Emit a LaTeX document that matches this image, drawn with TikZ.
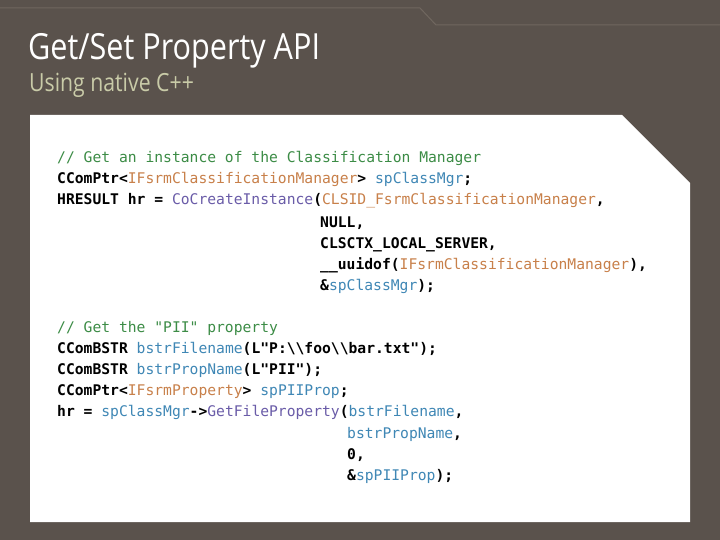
\documentclass[tikz,border=0pt]{standalone}
\usepackage{fontspec}
\setmainfont{Open Sans}
\newfontfamily\codefont{DejaVu Sans Mono}
\definecolor{bg}{HTML}{5A524C}
\definecolor{deco}{HTML}{70675F}
\definecolor{subc}{HTML}{C9CBA8}
\definecolor{cmc}{HTML}{3C8C46}
\definecolor{tyc}{HTML}{C8804A}
\definecolor{vac}{HTML}{3F87B5}
\definecolor{fnc}{HTML}{6A5CA8}
\newcommand\kw[1]{\textbf{#1}}
\newcommand\ty[1]{\textcolor{tyc}{#1}}
\newcommand\va[1]{\textcolor{vac}{#1}}
\newcommand\fn[1]{\textcolor{fnc}{#1}}
\newcommand\cm[1]{\textcolor{cmc}{#1}}
\newcommand\bs{\textbackslash}
\begin{document}
\begin{tikzpicture}[x=1pt,y=-1pt,
  code/.style={anchor=base west,inner sep=0pt,font=\codefont\fontsize{14.67}{16}\selectfont}]
\useasboundingbox (0,0) rectangle (720,540);
\fill[bg] (0,0) rectangle (720,540);
\draw[deco,line width=1pt] (0,8) -- (420,8) -- (436,25) -- (720,25);
\node[anchor=base west,inner sep=0pt,text=white,font=\fontsize{36}{40}\selectfont\addfontfeatures{FakeStretch=0.85}] (title) at (28,60) {Get/Set Property API};
\node[anchor=base west,inner sep=0pt,text=subc,font=\fontsize{25}{28}\selectfont\addfontfeatures{FakeStretch=0.85}] (sub) at (29,92) {Using native C++};
\fill[white] (30,115) -- (622,115) -- (690,183) -- (690,522) -- (30,522) -- cycle;
\def\L{57}
\node[code] (l1) at (\L,163) {\cm{// Get an instance of the Classification Manager}};
\node[code] (l2) at (\L,184) {\kw{CComPtr<}\ty{IFsrmClassificationManager}\kw{>} \va{spClassMgr}\kw{;}};
\node[code] (l3) at (\L,205) {\kw{HRESULT hr =} \fn{CoCreateInstance}\kw{(}\ty{CLSID\_FsrmClassificationManager}\kw{,}};
\node[code] (l4) at (320,227) {\kw{NULL,}};
\node[code] (l5) at (320,248) {\kw{CLSCTX\_LOCAL\_SERVER,}};
\node[code] (l6) at (320,269) {\kw{\_\_uuidof(}\ty{IFsrmClassificationManager}\kw{),}};
\node[code] (l7) at (320,290) {\kw{\&}\va{spClassMgr}\kw{);}};
\node[code] (m1) at (\L,332) {\cm{// Get the "PII" property}};
\node[code] (m2) at (\L,353) {\kw{CComBSTR} \va{bstrFilename}\kw{(L"P:\bs\bs foo\bs\bs bar.txt");}};
\node[code] (m3) at (\L,374) {\kw{CComBSTR} \va{bstrPropName}\kw{(L"PII");}};
\node[code] (m4) at (\L,395) {\kw{CComPtr<}\ty{IFsrmProperty}\kw{>} \va{spPIIProp}\kw{;}};
\node[code] (m5) at (\L,416) {\kw{hr =} \va{spClassMgr}\kw{->}\fn{GetFileProperty}\kw{(}\va{bstrFilename}\kw{,}};
\node[code] (m6) at (347,438) {\va{bstrPropName}\kw{,}};
\node[code] (m7) at (347,459) {\kw{0,}};
\node[code] (m8) at (347,480) {\kw{\&}\va{spPIIProp}\kw{);}};
\end{tikzpicture}
\end{document}
